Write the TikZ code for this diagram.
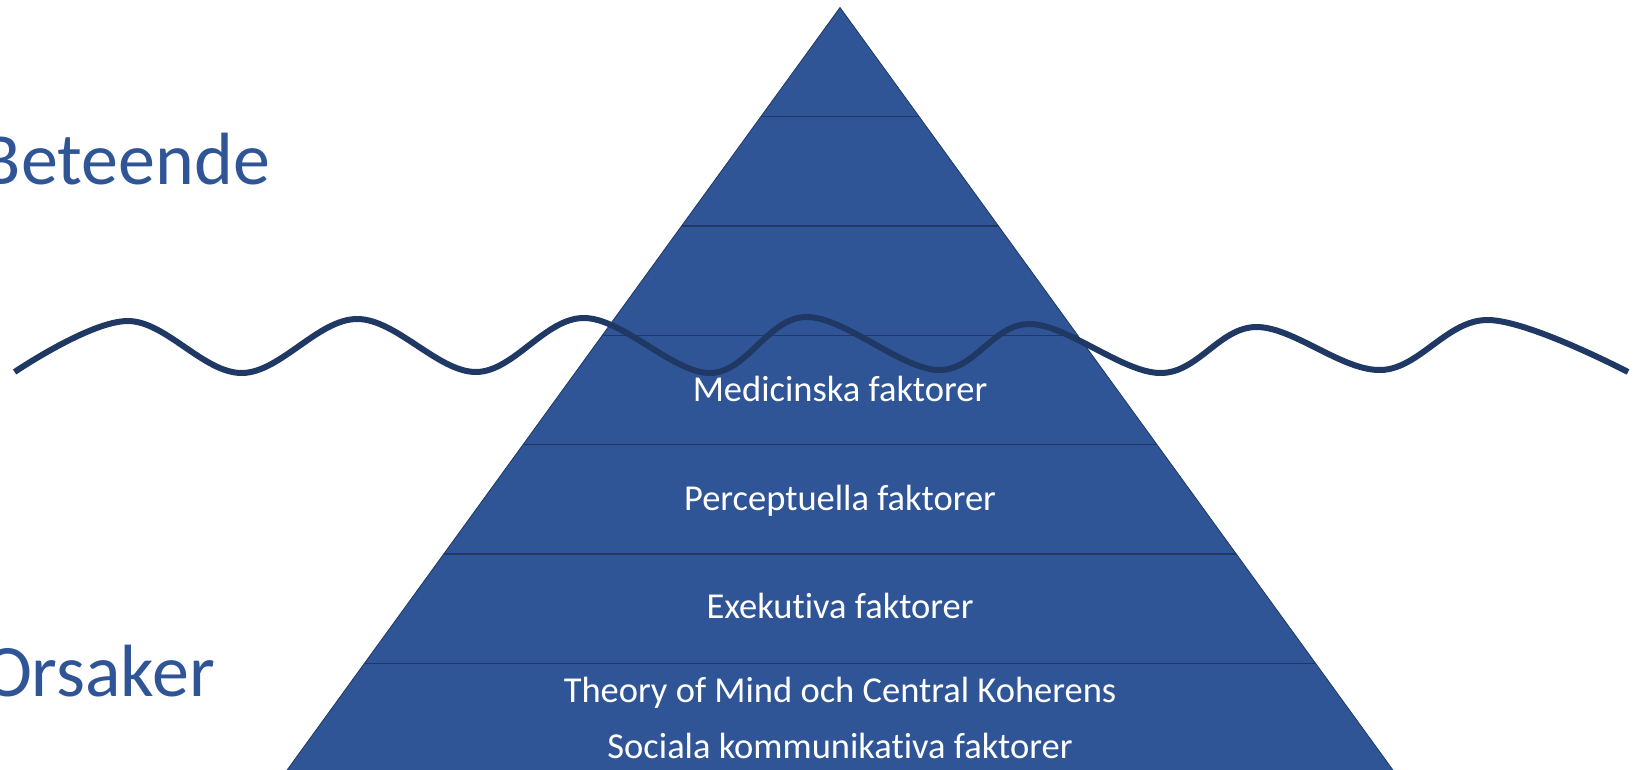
\documentclass[tikz,border=0pt]{standalone}
\usepackage{fontspec}
\setmainfont{Carlito}[Ligatures={NoCommon}]
\usetikzlibrary{calc}
\definecolor{pyrblue}{HTML}{2F5597}
\definecolor{darkline}{HTML}{1F3864}
\definecolor{wavecol}{HTML}{203864}
\begin{document}
\begin{tikzpicture}[x=1pt,y=-1pt,
  lbl/.style={inner sep=0pt, anchor=base, text=white, font=\fontsize{36.5}{42}\selectfont},
  big/.style={inner sep=0pt, anchor=base east, text=pyrblue, font=\fontsize{74}{84}\selectfont},
  layerline/.style={draw=darkline, line width=1.4pt},
  wave/.style={draw=wavecol, line width=6pt}]
\useasboundingbox (0,0) rectangle (1639,770);
\coordinate (A) at (840,7.5);
\coordinate (BL) at (285.3,772.5);
\coordinate (BR) at (1394.7,772.5);
\filldraw[fill=pyrblue, draw=darkline, line width=0.8pt] (A) -- (BL) -- (BR) -- cycle;
\foreach \k in {1,...,6}{
  \draw[layerline] ($(A)!\k/7!(BL)$) -- ($(A)!\k/7!(BR)$);
}
\node[big] (bet) at (270,185) {Beteende};
\node[big] (ors) at (215,696) {Orsaker};
\node[lbl] (med) at (840,401.7) {Medicinska faktorer};
\node[lbl] (per) at (840,510) {Perceptuella faktorer};
\node[lbl] (exe) at (840,618.3) {Exekutiva faktorer};
\node[lbl] (tom) at (840,702) {Theory of Mind och Central Koherens};
\node[lbl] (soc) at (840,758) {Sociala kommunikativa faktorer};
\draw[wave] plot[smooth, tension=0.6] coordinates {(14.6,372) (128,321) (242,373) (357,319) (476,372) (584,318) (710,373) (806,317) (938,370) (1030,324) (1160,373) (1256,327) (1381,370) (1488,320) (1628,372)};
\end{tikzpicture}
\end{document}
